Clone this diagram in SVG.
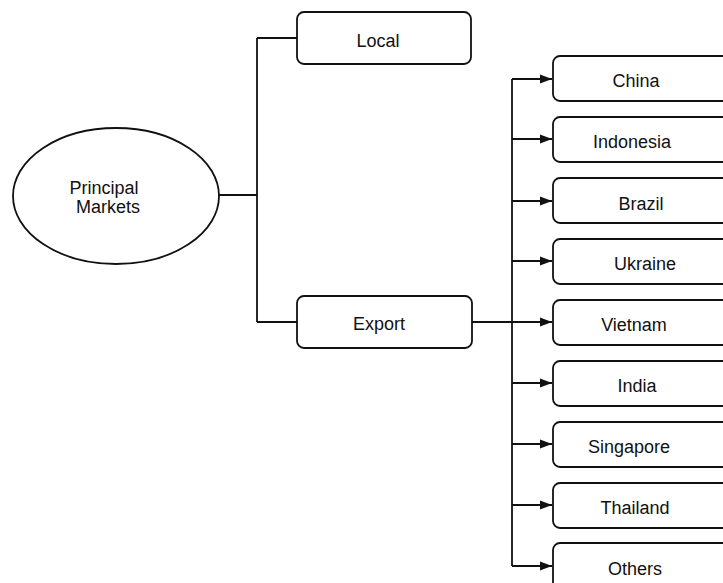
<svg xmlns="http://www.w3.org/2000/svg" width="723" height="583" viewBox="0 0 723 583">
<style>
.box{fill:#fff;stroke:#111;stroke-width:1.8}
.ln{fill:none;stroke:#111;stroke-width:1.8}
text{font-family:"Liberation Sans",Arial,sans-serif;font-size:18px;fill:#111;text-anchor:middle}
</style>
<defs>
<marker id="ah" markerWidth="13" markerHeight="10" refX="12" refY="5" orient="auto" markerUnits="userSpaceOnUse">
<path d="M0,0.5 L12,5 L0,9.5 Z" fill="#111"/>
</marker>
</defs>
<rect width="723" height="583" fill="#fff"/>
<g id="connectors">
<path class="ln" d="M218,195 H257 M257,38 V322 M257,38 H297 M257,322 H297"/>
<path class="ln" d="M512,79 V566"/>
<path class="ln" d="M512,79 H552" marker-end="url(#ah)"/>
<path class="ln" d="M512,139 H552" marker-end="url(#ah)"/>
<path class="ln" d="M512,201 H552" marker-end="url(#ah)"/>
<path class="ln" d="M512,261 H552" marker-end="url(#ah)"/>
<path class="ln" d="M472,322 H552" marker-end="url(#ah)"/>
<path class="ln" d="M512,383 H552" marker-end="url(#ah)"/>
<path class="ln" d="M512,444 H552" marker-end="url(#ah)"/>
<path class="ln" d="M512,505 H552" marker-end="url(#ah)"/>
<path class="ln" d="M512,566 H552" marker-end="url(#ah)"/>
</g>
<g id="principal">
<ellipse class="box" cx="116" cy="196" rx="103" ry="68"/>
<text x="104" y="194">Principal</text>
<text x="108" y="213">Markets</text>
</g>
<g id="local">
<rect class="box" x="297" y="12" width="174" height="52" rx="7"/>
<text x="378" y="47">Local</text>
</g>
<g id="export">
<rect class="box" x="297" y="296" width="175" height="52" rx="7"/>
<text x="379" y="330">Export</text>
</g>
<g id="china"><rect class="box" x="553" y="56" width="180" height="45" rx="7"/><text x="636" y="87">China</text></g>
<g id="indonesia"><rect class="box" x="553" y="117" width="180" height="45" rx="7"/><text x="632" y="148">Indonesia</text></g>
<g id="brazil"><rect class="box" x="553" y="178" width="180" height="45" rx="7"/><text x="641" y="210">Brazil</text></g>
<g id="ukraine"><rect class="box" x="553" y="239" width="180" height="45" rx="7"/><text x="645" y="270">Ukraine</text></g>
<g id="vietnam"><rect class="box" x="553" y="300" width="180" height="45" rx="7"/><text x="634" y="331">Vietnam</text></g>
<g id="india"><rect class="box" x="553" y="361" width="180" height="45" rx="7"/><text x="637" y="392">India</text></g>
<g id="singapore"><rect class="box" x="553" y="422" width="180" height="45" rx="7"/><text x="629" y="453">Singapore</text></g>
<g id="thailand"><rect class="box" x="553" y="483" width="180" height="45" rx="7"/><text x="635" y="514">Thailand</text></g>
<g id="others"><rect class="box" x="553" y="543" width="180" height="50" rx="7"/><text x="635" y="575">Others</text></g>
</svg>
